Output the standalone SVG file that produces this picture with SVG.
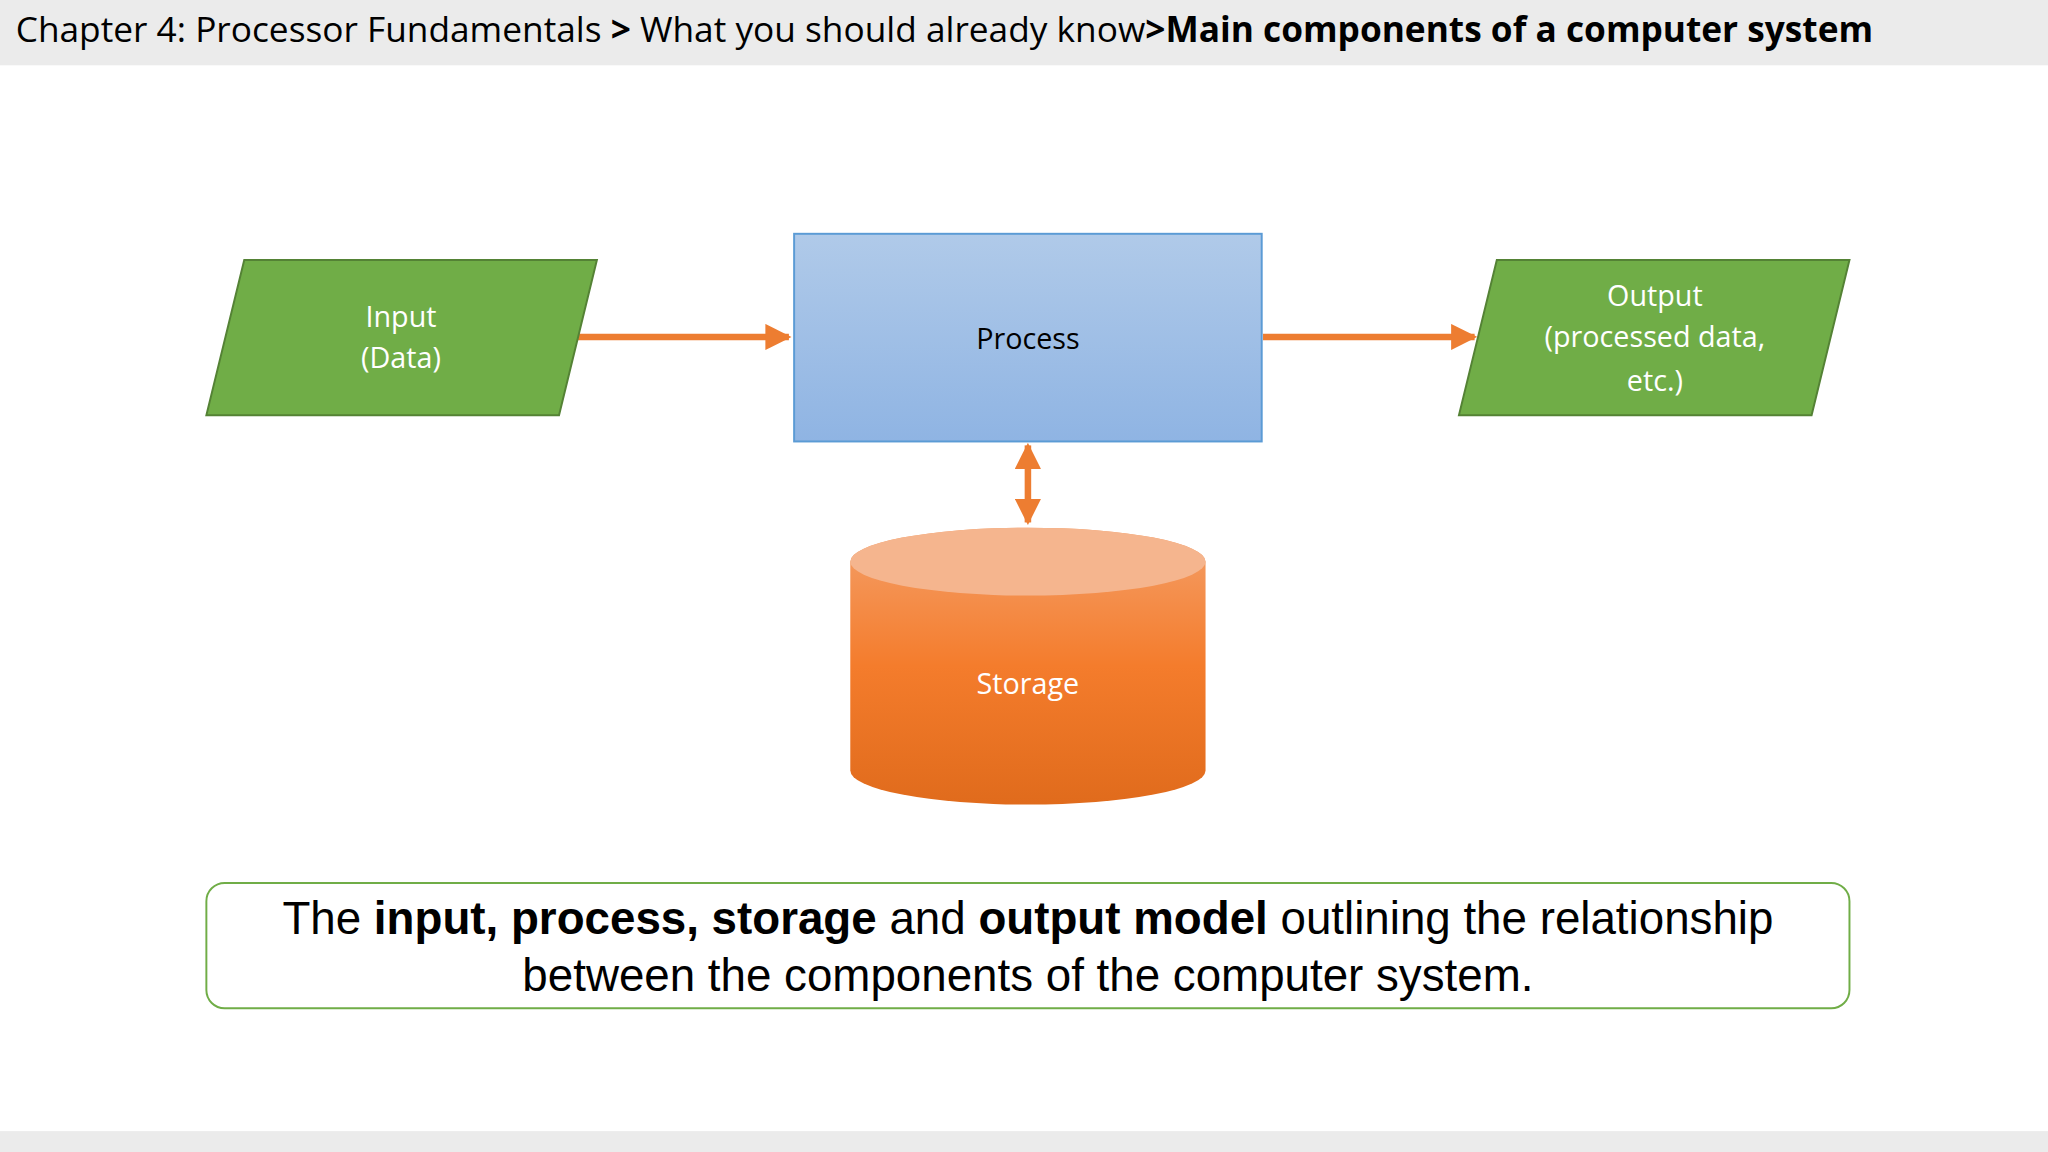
<svg xmlns="http://www.w3.org/2000/svg" width="2048" height="1152" viewBox="0 0 2048 1152">
<style>
.t{font-family:"Open Sans","Noto Sans",sans-serif;}
.w{fill:#fff;font-size:22px;text-anchor:middle;}
.c{font-family:"Liberation Sans",Arial,sans-serif;font-size:35px;fill:#000;text-anchor:middle;}
.e{stroke:#ed7d31;stroke-width:5;fill:none;}
</style>
<defs>
<linearGradient id="gb" x1="0" y1="0" x2="0" y2="1"><stop offset="0" stop-color="#b0cae9"/><stop offset="1" stop-color="#8fb4e3"/></linearGradient>
<linearGradient id="go" x1="0" y1="0" x2="0" y2="1"><stop offset="0" stop-color="#f4a06a"/><stop offset="0.5" stop-color="#f47c2c"/><stop offset="1" stop-color="#e06b1c"/></linearGradient>
<marker id="a" viewBox="0 0 10 10" refX="9" refY="5" markerWidth="4" markerHeight="4" orient="auto-start-reverse"><path d="M0,0 L10,5 L0,10 z" fill="#ed7d31"/></marker>
</defs>
<g transform="scale(1.306122)">
<rect x="0" y="0" width="1568" height="50" fill="#ebebeb"/>
<rect x="0" y="866" width="1568" height="16" fill="#ebebeb"/>
<text class="t" x="12" y="32" font-size="27" fill="#000">Chapter 4: Processor Fundamentals <tspan font-weight="bold">&gt;</tspan> What you should already know<tspan font-weight="bold">&gt;Main components of a computer system</tspan></text>
<g id="connectors">
<line class="e" x1="442" y1="258" x2="604" y2="258" marker-end="url(#a)"/>
<line class="e" x1="967" y1="258" x2="1129" y2="258" marker-end="url(#a)"/>
<line class="e" x1="787" y1="341" x2="787" y2="400" marker-start="url(#a)" marker-end="url(#a)"/>
</g>
<g id="input">
<polygon points="187,199 457,199 428,318 158,318" fill="#70ad47" stroke="#548235" stroke-width="1.5"/>
<text class="t w" x="307" y="250">Input</text>
<text class="t w" x="307" y="282">(Data)</text>
</g>
<g id="process">
<rect x="608" y="179" width="358" height="159" fill="url(#gb)" stroke="#5b9bd5" stroke-width="1.5"/>
<text class="t" x="787" y="267" font-size="22" fill="#000" text-anchor="middle">Process</text>
</g>
<g id="output">
<polygon points="1146,199 1416,199 1387,318 1117,318" fill="#70ad47" stroke="#548235" stroke-width="1.5"/>
<text class="t w" x="1267" y="234">Output</text>
<text class="t w" x="1267" y="266">(processed data,</text>
<text class="t w" x="1267" y="299">etc.)</text>
</g>
<g id="storage">
<path d="M651,430 L651,590 A136,26 0 0 0 923,590 L923,430 A136,26 0 0 0 651,430 Z" fill="url(#go)"/>
<ellipse cx="787" cy="430" rx="136" ry="26" fill="#f5b58e"/>
<text class="t w" x="787" y="531">Storage</text>
</g>
<g id="caption">
<rect x="158" y="676" width="1258" height="96" rx="14" fill="#fff" stroke="#70ad47" stroke-width="1.5"/>
<text class="c" x="787" y="715">The <tspan font-weight="bold">input, process, storage</tspan> and <tspan font-weight="bold">output model</tspan> outlining the relationship</text>
<text class="c" x="787" y="759">between the components of the computer system.</text>
</g>
</g>
</svg>
